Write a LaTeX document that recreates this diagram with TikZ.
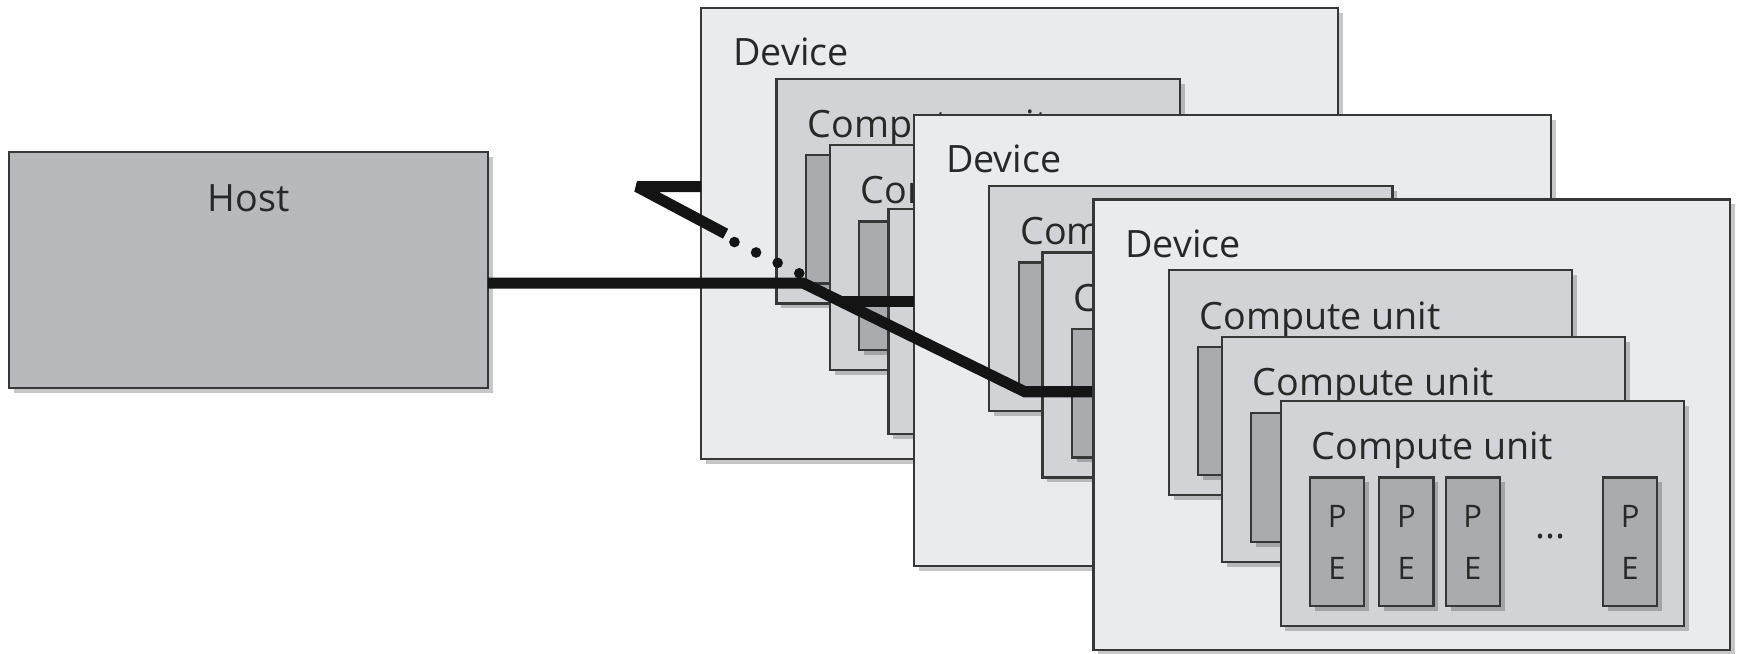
\documentclass[tikz,border=0pt]{standalone}
\usepackage{fontspec}
\setmainfont{Open Sans}
\usetikzlibrary{shadows,calc}
\definecolor{hostfill}{RGB}{184,185,189}
\definecolor{devfill}{RGB}{234,235,237}
\definecolor{cufill}{RGB}{210,211,214}
\definecolor{pefill}{RGB}{170,171,175}
\definecolor{bordercol}{RGB}{55,55,55}
\definecolor{textcol}{RGB}{40,40,40}
\tikzset{
  box/.style={draw=bordercol, line width=1pt, inner sep=0pt, outer sep=0pt, anchor=north west,
    drop shadow={shadow xshift=2.2pt, shadow yshift=-2.2pt, fill=black, opacity=0.22}},
  hostbox/.style={box, fill=hostfill, minimum width=216.25pt, minimum height=106.5pt},
  devbox/.style={box, fill=devfill, minimum width=287.5pt, minimum height=203.5pt},
  cubox/.style={box, fill=cufill, minimum width=182pt, minimum height=101.5pt},
  pebox/.style={box, fill=pefill, minimum width=24.5pt, minimum height=58pt},
  lbl/.style={anchor=base west, inner sep=0pt, outer sep=0pt, text=textcol, font=\fontsize{17}{20}\selectfont},
  pelbl/.style={anchor=center, inner sep=0pt, outer sep=0pt, text=textcol, font=\fontsize{14}{16}\selectfont},
  bus/.style={draw=black!92, line width=5pt},
  busdot/.style={fill=black!92}
}
\newcommand{\mycuname}[2]{\node[lbl] (culbl#1#2) at ($(cu#1#2.north west)+(28,53)$) {Compute unit};}
\newcommand{\mydevice}[3]{%
  \node[devbox] (dev#1) at (#2,#3) {};
  \node[lbl] (devlbl#1) at ($(dev#1.north west)+(29,52)$) {Device};
  \foreach \c/\cx/\cy in {1/68/64,2/116/124,3/169/182}{%
    \node[cubox] (cu#1\c) at ($(dev#1.north west)+(\cx,\cy)$) {};
    \ifnum\c<3 \mycuname{#1}{\c}\else\ifnum#1=3 \mycuname{#1}{\c}\fi\fi
    \foreach \p/\px in {1/26.5,2/89,3/149,4/291}{%
      \node[pebox] (pe#1\c\p) at ($(cu#1\c.north west)+(\px,69)$) {};
      \ifnum\c=3 \ifnum#1=3
        \node[pelbl] (pelp#1\c\p) at ($(pe#1\c\p.center)+(0,-22.5)$) {P};
        \node[pelbl] (pele#1\c\p) at ($(pe#1\c\p.center)+(0,24)$) {E};
      \fi\fi
    }%
    \ifnum\c=3 \ifnum#1=3
      \node[lbl, anchor=base] (dots#1) at ($(cu#1\c.north west)+(244,124)$) {...};
    \fi\fi
  }%
}
\begin{document}
\begin{tikzpicture}[x=0.5pt,y=-0.5pt]
\useasboundingbox (0,0) rectangle (1568,590);
% host
\node[hostbox] (host) at (8,137) {};
\node[lbl, anchor=base] (hostlbl) at ($(host.north)+(0,54)$) {Host};
% devices behind
\mydevice{1}{633}{7}
\mydevice{2}{825}{104}
% bus lines
\coordinate (d3nw) at (987,180);
\coordinate (J) at (725,255.5);
\coordinate (K) at (925,353.6);
\draw[bus, line join=miter] (host.east |- J) -- (J) -- (K) -- (K -| d3nw);
\coordinate (S) at ($(J)!0.17!(K)$);
\draw[bus] (S) -- (S -| dev2.west);
\coordinate (U) at (575,168.5);
\coordinate (V) at (655,211);
\draw[bus, line join=bevel] (dev1.west |- U) -- (U) -- (V);
\coordinate (D0) at (663,218.5);
\coordinate (W) at (721.5,246.7);
\foreach \t in {0,0.3333,0.6667,1}{\fill[busdot] ($(D0)!\t!(W)$) circle (2.4pt);}
% front device
\mydevice{3}{987}{180}
\end{tikzpicture}
\end{document}
